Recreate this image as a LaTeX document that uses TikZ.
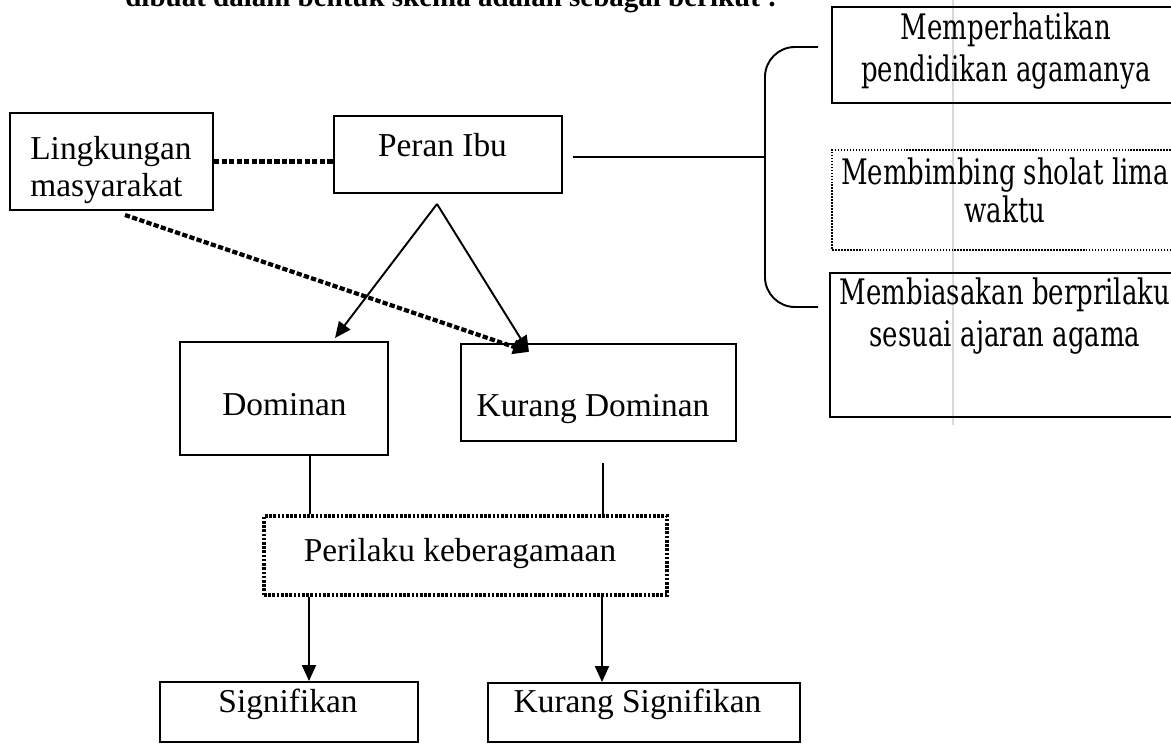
\documentclass[tikz,border=0pt]{standalone}
\usepackage{fontspec}
\setmainfont{Liberation Serif}
\newfontfamily\rfont{DejaVu Serif}
\usetikzlibrary{arrows.meta}
\newcommand\stk[2][c]{\begin{tabular}[t]{@{}#1@{}}#2\end{tabular}}
\begin{document}
\begin{tikzpicture}[x=0.02cm,y=-0.02cm,
  box/.style={draw, line width=1.1pt, inner sep=0pt},
  dbox/.style={draw, line width=1pt, dash pattern=on 0.9pt off 0.8pt, inner sep=0pt},
  pbox/.style={draw, line width=2.2pt, dash pattern=on 1.5pt off 0.9pt, inner sep=0pt},
  txt/.style={inner sep=0pt, font=\fontsize{19}{21}\selectfont},
  rtxt/.style={inner sep=0pt, font=\rfont\fontsize{20}{23.8}\selectfont},
  rtxtb/.style={inner sep=0pt, font=\rfont\fontsize{20}{21}\selectfont},
  conn/.style={line width=1.1pt},
  arr/.style={line width=1.1pt, -{Triangle[length=0.32cm,width=0.28cm]}},
  dots/.style={line width=2.4pt, dash pattern=on 3pt off 1.3pt},
  ddots/.style={line width=2.4pt, dash pattern=on 3pt off 1.3pt, -{Triangle[length=0.32cm,width=0.28cm]}},
]
\useasboundingbox (0,0) rectangle (1171,746);
\clip (0,0) rectangle (1171,746);
\fill[white] (0,0) rectangle (1171,746);

% scan artefact line
\draw[gray!30, line width=0.8pt] (953,0) -- (953,425);

% cut-off heading (cut by the page edge, as in the reference)
\node[inner sep=0pt, anchor=base west, font=\bfseries\fontsize{16.5}{18}\selectfont] (head) at (125,7) {dibuat dalam bentuk skema adalah sebagai berikut :};

% left boxes
\node[box, minimum width=4.06cm, minimum height=1.94cm] (ling) at (111.5,161.5) {};
\node[txt, anchor=base west] (lingt) at (30,160) {\stk[l]{Lingkungan\\masyarakat}};

\node[box, minimum width=4.56cm, minimum height=1.54cm] (peran) at (448,154.5) {};
\node[txt, anchor=base] (perant) at (442.5,157) {Peran Ibu};

\node[box, minimum width=4.16cm, minimum height=2.26cm] (dom) at (284,398.5) {};
\node[txt, anchor=base] (domt) at (284.5,416) {Dominan};

\node[box, minimum width=5.5cm, minimum height=1.94cm] (kdom) at (598.5,392.5) {};
\node[txt, anchor=base] (kdomt) at (593,417) {Kurang Dominan};

\node[pbox, minimum width=8.06cm, minimum height=1.58cm] (peril) at (465.5,555.5) {};
\node[txt, anchor=base] (perilt) at (460,562) {Perilaku keberagamaan};

\node[box, minimum width=5.16cm, minimum height=1.2cm] (sig) at (289,712) {};
\node[txt, anchor=base] (sigt) at (288,713) {Signifikan};

\node[box, minimum width=6.24cm, minimum height=1.18cm] (ksig) at (644,712.5) {};
\node[txt, anchor=base] (ksigt) at (637.5,713) {Kurang Signifikan};

% right boxes
\node[box, minimum width=6.96cm, minimum height=1.92cm] (r1) at (1006,55) {};
\node[rtxt, anchor=base] (r1t) at (1006,40) {\scalebox{0.74}[1]{\stk{Memperhatikan\\pendidikan agamanya}}};

\node[dbox, minimum width=6.96cm, minimum height=2.0cm] (r2) at (1006,200) {};
\node[rtxtb, anchor=base] (r2t) at (1005,185) {\scalebox{0.74}[1]{\stk{Membimbing sholat lima\\waktu}}};

\node[box, minimum width=7.0cm, minimum height=2.88cm] (r3) at (1005,345) {};
\node[rtxt, anchor=base] (r3t) at (1005,305) {\scalebox{0.74}[1]{\stk{Membiasakan berprilaku\\sesuai ajaran agama}}};

% bracket
\coordinate (brtop) at (818,47);
\coordinate (brbot) at (818,307);
\coordinate (brmid) at (765,157);
\draw[conn, rounded corners=0.6cm] (brtop) -- (765,47) -- (765,307) -- (brbot);

% connectors
\coordinate (pbr) at (573,157);
\draw[conn] (pbr) -- (brmid);
\draw[dots] (ling.east) -- (ling.east -| peran.west);

\coordinate (apex) at (437,204);
\coordinate (dtip) at (335,338);
\coordinate (ktip) at (529,352);
\coordinate (lstart) at (125,215);
\draw[arr] (apex) -- (dtip);
\draw[arr] (apex) -- (ktip);
\draw[ddots] (lstart) -- (ktip);

\coordinate (cl) at (310,0);
\coordinate (cr) at (603,463);
\draw[conn] (dom.south -| cl) -- (peril.north -| cl);
\draw[conn] (cr) -- (peril.north -| cr);

\coordinate (al) at (309,0);
\coordinate (ar) at (602,0);
\draw[arr] (peril.south -| al) -- (sig.north -| al);
\draw[arr] (peril.south -| ar) -- (ksig.north -| ar);
\end{tikzpicture}
\end{document}
